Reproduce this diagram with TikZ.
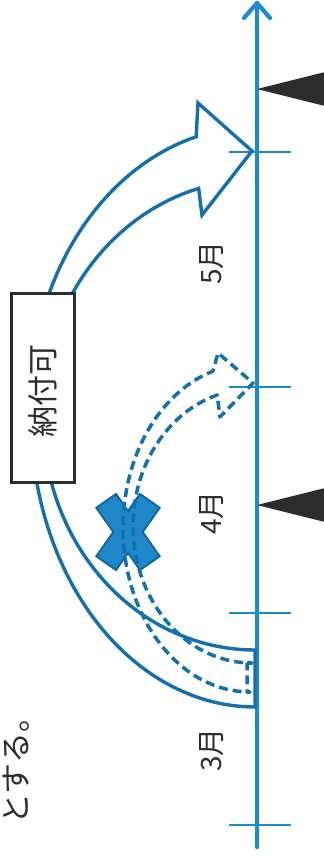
\documentclass[tikz,border=0pt]{standalone}
\usepackage{fontspec}
\newfontfamily\jp{Noto Sans CJK JP}
\definecolor{axisblue}{RGB}{24,140,205}
\definecolor{lineblue}{RGB}{20,112,172}
\definecolor{xfill}{RGB}{30,136,200}
\definecolor{xedge}{RGB}{18,100,160}
\definecolor{darkgray}{RGB}{45,45,45}
\begin{document}
\begin{tikzpicture}[x=1pt,y=-1pt,
  axisline/.style={draw=axisblue,line width=4.2pt,line cap=round,line join=round},
  tickline/.style={draw=axisblue,line width=1.8pt},
  band/.style={draw=lineblue,line width=3.4pt,line join=miter},
  dashband/.style={draw=lineblue,line width=3.5pt,dash pattern=on 9pt off 5pt,line join=round},
  marker/.style={fill=darkgray,draw=none},
  monthlabel/.style={text=darkgray,font=\jp\fontsize{28}{28}\selectfont,rotate=90,inner sep=0pt},
  paybox/.style={draw=darkgray,line width=3.2pt,fill=white,minimum width=63pt,minimum height=189pt,inner sep=0pt},
  boxtext/.style={text=darkgray,font=\jp\fontsize{31}{31}\selectfont,rotate=90,inner sep=0pt},
  sidetext/.style={text=darkgray,font=\jp\fontsize{31}{31}\selectfont,rotate=90,inner sep=0pt}
]
\useasboundingbox (0,0) rectangle (324,857);
\clip (0,0) rectangle (324,857);
\fill[white] (0,0) rectangle (324,857);

% markers (black triangles)
\fill[marker] (257,89) -- (345,67) -- (345,111) -- cycle;
\fill[marker] (257,505) -- (345,483) -- (345,527) -- cycle;

% axis
\coordinate (axtop) at (257,3);
\coordinate (axbot) at (257,847);
\draw[axisline] (axbot) -- (axtop);
\draw[axisline] (244,18) -- (axtop) -- (270,18);

% ticks
\foreach \ty in {152,387,613,825} {
  \draw[tickline] (229,\ty) -- (291,\ty);
}

% solid hollow arrow
\draw[band]
  plot[domain=90:180,samples=50,variable=\t] ({255+212*cos(\t)},{418+232*sin(\t)})
  -- plot[domain=180:254.8,samples=50,variable=\t] ({255+215*cos(\t)},{420+240*sin(\t)})
  -- (202,215) -- (252,151) -- (198,103)
  -- plot[domain=254.9:180,samples=50,variable=\t] ({255+226*cos(\t)},{410+283*sin(\t)})
  -- plot[domain=180:90,samples=50,variable=\t] ({255+224*cos(\t)},{417+290*sin(\t)})
  -- cycle;

% box
\node[paybox] (pay) at (43,388) {};
\node[boxtext] (paytext) at (43,391) {納付可};

% X mark
\begin{scope}[shift={(128,532)}]
  \draw[draw=xedge,line width=4pt,rotate=55] (-37,-11) rectangle (37,11);
  \draw[draw=xedge,line width=4pt,rotate=-55] (-37,-11) rectangle (37,11);
  \fill[xfill,rotate=55] (-37,-11) rectangle (37,11);
  \fill[xfill,rotate=-55] (-37,-11) rectangle (37,11);
\end{scope}

% dashed hollow arrow
\draw[dashband] (247,663)
  -- plot[domain=90:253,samples=50,variable=\t] ({252+119*cos(\t)},{526+137*sin(\t)})
  -- (220,417) -- (253,383) -- (218,353)
  -- plot[domain=253:90,samples=50,variable=\t] ({250+127*cos(\t)},{528+164*sin(\t)})
  -- (247,692) -- cycle;

% month labels
\node[monthlabel] (m5) at (212,263) {5月};
\node[monthlabel] (m4) at (212,513) {4月};
\node[monthlabel] (m3) at (212,750) {3月};

% side text
\node[sidetext] (side) at (16,763) {とする。};
\end{tikzpicture}
\end{document}
